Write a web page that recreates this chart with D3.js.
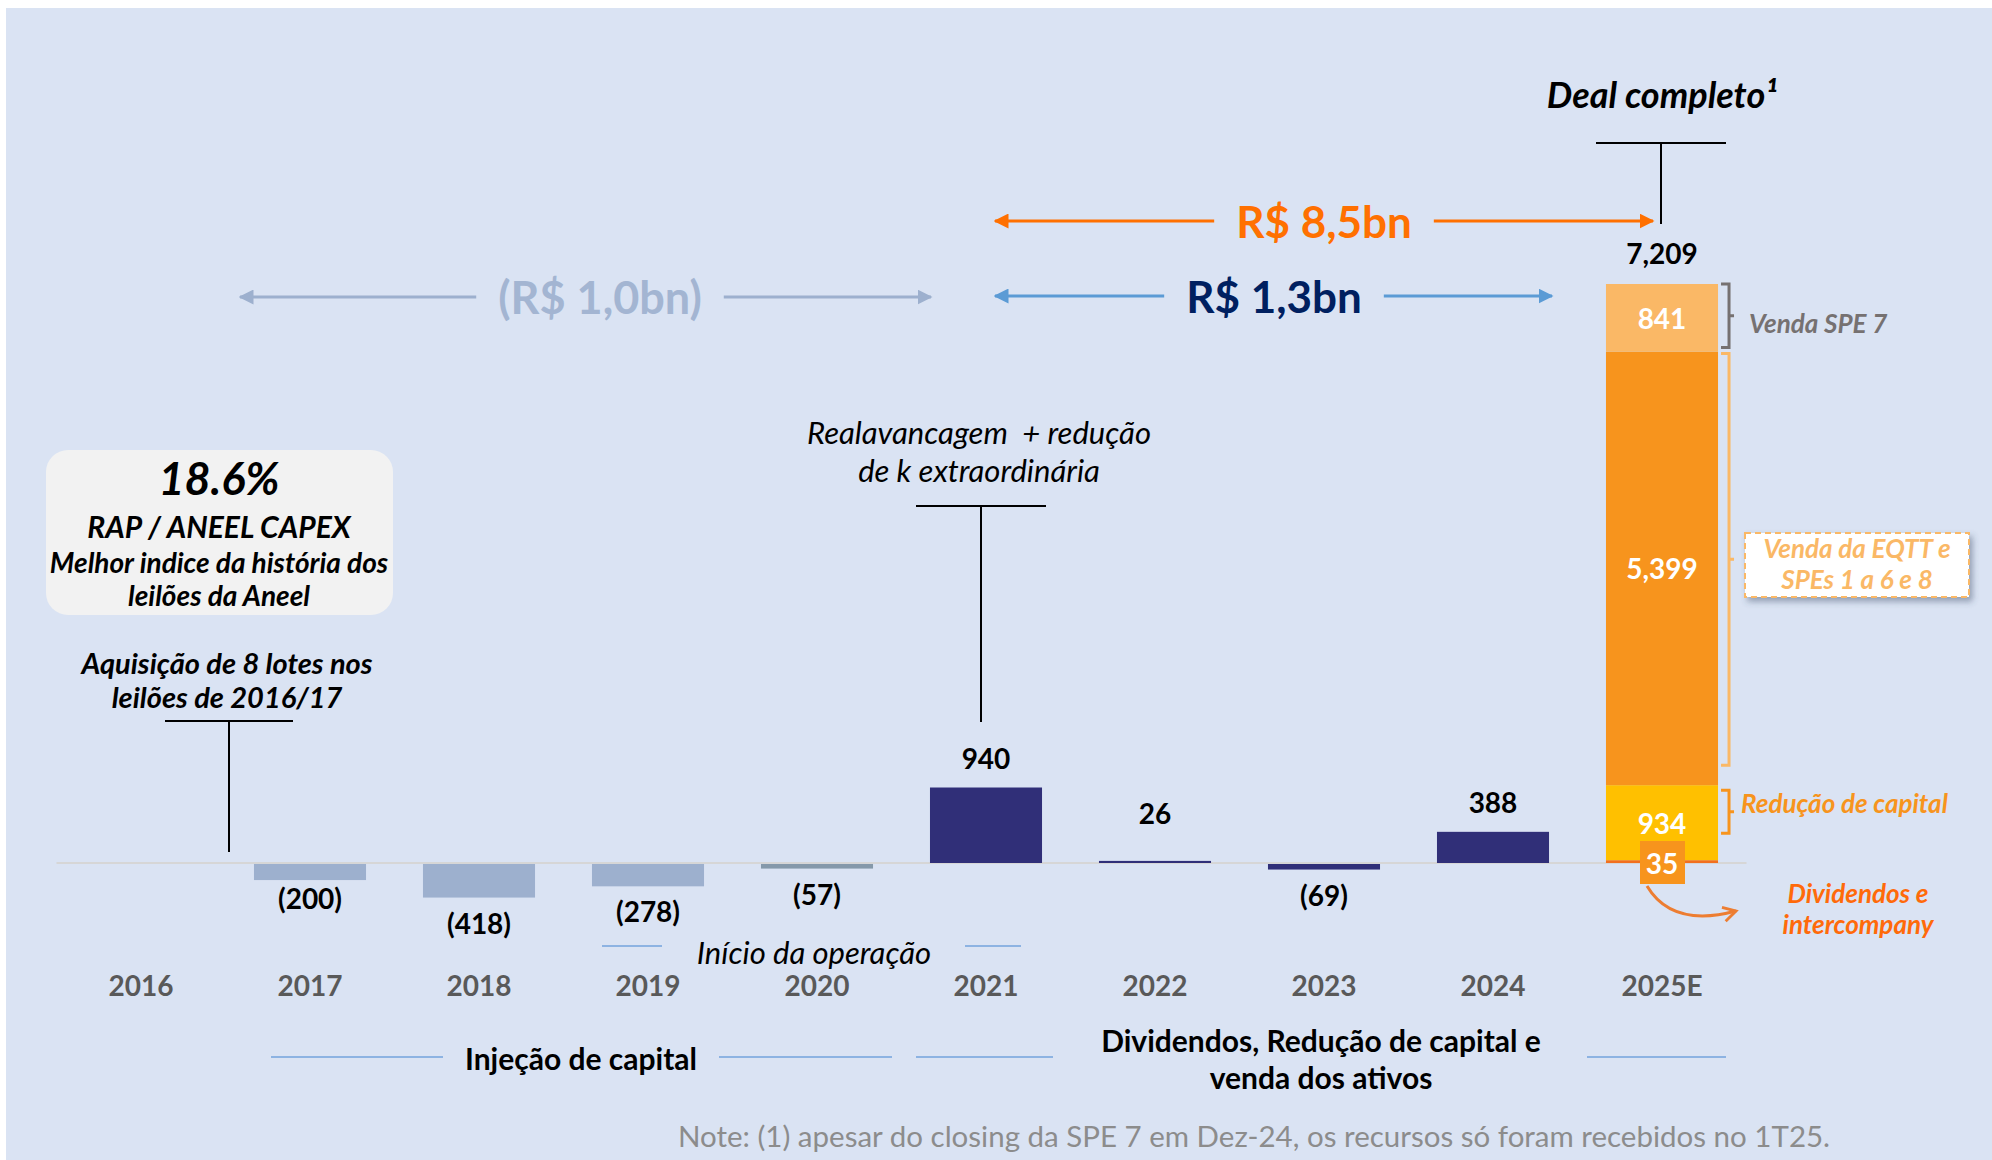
<!DOCTYPE html>
<html>
<head>
<meta charset="utf-8">
<script src="https://cdn.jsdelivr.net/npm/d3@7/dist/d3.min.js"></script>
<style>
  body { margin: 0; background: #ffffff; }
  svg { display: block; }
  text { font-family: Lato, "Open Sans", "DejaVu Sans", sans-serif; white-space: pre; }
</style>
</head>
<body>
<svg id="chart" width="1992" height="1160"></svg>
<script>
// data
var years = ["2016", "2017", "2018", "2019", "2020", "2021", "2022", "2023", "2024", "2025E"];
var flows = [null, -200, -418, -278, -57, 940, 26, -69, 388, null];
var stackNames = ["Dividendos e intercompany", "Redução de capital", "Venda da EQTT e SPEs 1 a 6 e 8", "Venda SPE 7"];
var stackValues = [35, 934, 5399, 841];
var periodLabels = ["(R$ 1,0bn)", "R$ 1,3bn", "R$ 8,5bn"];

var svg = d3.select("#chart");
var W = 1992, H = 1160;

// background panel
svg.append("rect").attr("x", 6).attr("y", 8).attr("width", W - 6).attr("height", H - 8).attr("fill", "#dae3f3");

var x = d3.scaleBand().domain(years).range([56.5, 1746.5]).paddingInner(0.337).paddingOuter(0.1685);
var total = d3.sum(stackValues);
var y = d3.scaleLinear().domain([0, total]).range([863, 284]);
function cx(yr) { return x(yr) + x.bandwidth() / 2; }

var defs = svg.append("defs");
function arrowMarker(id, color) {
  defs.append("marker").attr("id", id).attr("viewBox", "0 0 10 10")
    .attr("refX", 9).attr("refY", 5).attr("markerWidth", 5).attr("markerHeight", 5)
    .attr("orient", "auto-start-reverse")
    .append("path").attr("d", "M0,0 L10,5 L0,10 z").attr("fill", color);
}
arrowMarker("arrOrange", "#ff7000");
arrowMarker("arrBlue", "#5b9bd5");
arrowMarker("arrGrey", "#9db0ce");
defs.append("marker").attr("id", "chev").attr("viewBox", "0 0 10 10")
  .attr("refX", 8).attr("refY", 5).attr("markerWidth", 6).attr("markerHeight", 6)
  .attr("orient", "auto")
  .append("path").attr("d", "M1,1 L8,5 L1,9").attr("fill", "none").attr("stroke", "#ed7d31").attr("stroke-width", 1.6);
var shadow = defs.append("filter").attr("id", "shadow").attr("x", "-10%").attr("y", "-20%").attr("width", "130%").attr("height", "160%");
shadow.append("feDropShadow").attr("dx", 3).attr("dy", 4).attr("stdDeviation", 3).attr("flood-color", "#3a4a66").attr("flood-opacity", 0.45);

// zero line
svg.append("line").attr("x1", x.range()[0]).attr("x2", x.range()[1])
  .attr("y1", y(0)).attr("y2", y(0)).attr("stroke", "#d6d6d6").attr("stroke-width", 2);

function barColor(d, i) {
  if (d > 0 || i > 4) return "#302f78";
  if (i === 4) return "#8599aa";
  return "#9db0ce";
}

var barData = flows.map(function(v, i) { return {year: years[i], v: v, i: i}; }).filter(function(d) { return d.v !== null; });

svg.selectAll(".bar").data(barData).enter().append("rect")
  .attr("class", "bar")
  .attr("x", function(d) { return x(d.year); })
  .attr("width", x.bandwidth())
  .attr("y", function(d) { return d.v > 0 ? y(d.v) : y(0) + 1; })
  .attr("height", function(d) { return Math.abs(y(d.v) - y(0)); })
  .attr("fill", function(d) { return barColor(d.v, d.i); });

svg.selectAll(".val").data(barData).enter().append("text")
  .attr("class", "val")
  .attr("x", function(d) { return cx(d.year); })
  .attr("y", function(d) {
    if (d.v > 0) return Math.min(y(d.v), y(0) - 20) - 30;
    return Math.max(y(d.v), y(0) + 5) + (d.v === -200 ? 19 : 26);
  })
  .attr("dominant-baseline", "central")
  .attr("text-anchor", "middle").attr("font-size", 28).attr("font-weight", 700).attr("fill", "#000")
  .text(function(d) { return d.v < 0 ? "(" + Math.abs(d.v) + ")" : d3.format(",")(d.v); });

// 2025E stacked bar
var stackColors = ["#f26f1f", "#ffc000", "#f7941d", "#fab866"];
var cum = 0;
var segs = stackValues.map(function(v, i) { var s = {name: stackNames[i], v: v, y0: cum, y1: cum + v, i: i}; cum += v; return s; });
svg.selectAll(".seg").data(segs).enter().append("rect")
  .attr("class", "seg")
  .attr("x", x("2025E")).attr("width", x.bandwidth())
  .attr("y", function(d) { return y(d.y1); })
  .attr("height", function(d) { return y(d.y0) - y(d.y1); })
  .attr("fill", function(d) { return stackColors[d.i]; });

svg.selectAll(".segval").data(segs.slice(1)).enter().append("text")
  .attr("x", cx("2025E"))
  .attr("y", function(d) { return (y(d.y0) + y(d.y1)) / 2; })
  .attr("dominant-baseline", "central").attr("text-anchor", "middle")
  .attr("font-size", 28).attr("font-weight", 700).attr("fill", "#fff")
  .text(function(d) { return d3.format(",")(d.v); });

// small box for the 35
svg.append("rect").attr("x", cx("2025E") - 22).attr("y", y(0) - 22).attr("width", 45).attr("height", 43).attr("fill", "#f7941d");
svg.append("text").attr("x", cx("2025E")).attr("y", y(0))
  .attr("dominant-baseline", "central").attr("text-anchor", "middle")
  .attr("font-size", 28).attr("font-weight", 700).attr("fill", "#fff").text(segs[0].v);

// total
svg.append("text").attr("x", cx("2025E")).attr("y", y(total) - 31)
  .attr("dominant-baseline", "central").attr("text-anchor", "middle")
  .attr("font-size", 28).attr("font-weight", 700).attr("fill", "#000").text(d3.format(",")(total));

// brackets on the right of the stack
var bx = x("2025E") + x.bandwidth() + 3;
function bracket(y0, y1, color) {
  var m = (y0 + y1) / 2;
  svg.append("path")
    .attr("d", "M" + bx + "," + y0 + " H" + (bx + 8) + " V" + y1 + " H" + bx + " M" + (bx + 8) + "," + m + " H" + (bx + 13))
    .attr("fill", "none").attr("stroke", color).attr("stroke-width", 3);
}
bracket(y(segs[3].y1), y(segs[3].y0) - 4, "#767171");
bracket(y(segs[2].y1) + 2, y(segs[2].y0) - 20, "#fab866");
bracket(y(segs[1].y1) + 5, y(segs[1].y0) - 27, "#f7941d");

function italicLabel(tx, ty, str, size, color, anchor) {
  return svg.append("text").attr("x", tx).attr("y", ty).attr("text-anchor", anchor || "start")
    .attr("font-size", size).attr("font-weight", 700).attr("font-style", "italic")
    .attr("fill", color).text(str);
}
italicLabel(bx + 28, 333, "Venda SPE 7", 26, "#767171");
italicLabel(bx + 20, 813, "Redução de capital", 26, "#f7941d");

// dashed callout box
svg.append("rect").attr("x", 1745).attr("y", 533).attr("width", 224).attr("height", 64)
  .attr("fill", "#ffffff").attr("stroke", "#fab866").attr("stroke-width", 2)
  .attr("stroke-dasharray", "6,4").attr("filter", "url(#shadow)");
italicLabel(1857, 558, "Venda da EQTT e", 26, "#fab866", "middle");
italicLabel(1857, 589, "SPEs 1 a 6 e 8", 26, "#fab866", "middle");

// curved arrow to dividends note
svg.append("path").attr("d", "M1647,886 Q1672,928 1736,911")
  .attr("fill", "none").attr("stroke", "#ed7d31").attr("stroke-width", 3).attr("marker-end", "url(#chev)");
italicLabel(1858, 903, "Dividendos e", 26, "#ff6a0a", "middle");
italicLabel(1858, 934, "intercompany", 26, "#ff6a0a", "middle");

// period arrows
function periodArrow(x0, x1, yy, label, textColor, lineColor, marker, textX, size) {
  var t = svg.append("text").attr("x", textX).attr("y", yy)
    .attr("dominant-baseline", "central").attr("text-anchor", "middle")
    .attr("font-size", size).attr("font-weight", 700).attr("fill", textColor).text(label);
  var half = t.node().getComputedTextLength() / 2 + 22;
  svg.append("line").attr("x1", textX - half).attr("x2", x0).attr("y1", yy).attr("y2", yy)
    .attr("stroke", lineColor).attr("stroke-width", 3).attr("marker-end", "url(#" + marker + ")");
  svg.append("line").attr("x1", textX + half).attr("x2", x1).attr("y1", yy).attr("y2", yy)
    .attr("stroke", lineColor).attr("stroke-width", 3).attr("marker-end", "url(#" + marker + ")");
}
periodArrow(cx("2016") + 99, cx("2020") + 114, 297, periodLabels[0], "#a3b5d2", "#9db0ce", "arrGrey", 600, 45);
periodArrow(cx("2021") + 9, cx("2024") + 59, 296, periodLabels[1], "#002060", "#5b9bd5", "arrBlue", 1274, 44);
periodArrow(cx("2021") + 9, cx("2025E") - 9, 221, periodLabels[2], "#ff7000", "#ff7000", "arrOrange", 1324, 44);

// "Deal completo" marker
svg.append("text").attr("x", cx("2025E")).attr("y", 108).attr("text-anchor", "middle")
  .attr("font-size", 36).attr("font-weight", 700).attr("font-style", "italic").attr("fill", "#000")
  .text("Deal completo¹");
function tMarker(mx, top, bottom, half) {
  svg.append("line").attr("x1", mx - half).attr("x2", mx + half).attr("y1", top).attr("y2", top)
    .attr("stroke", "#000").attr("stroke-width", 2);
  svg.append("line").attr("x1", mx).attr("x2", mx).attr("y1", top).attr("y2", bottom)
    .attr("stroke", "#000").attr("stroke-width", 2);
}
tMarker(cx("2025E") - 1, 143, 224, 65);
tMarker(cx("2021") - 5, 506, 722, 65);
tMarker(229, 721, 852, 64);

// annotations
svg.append("text").attr("x", 979).attr("y", 444).attr("text-anchor", "middle")
  .attr("font-size", 31).attr("font-style", "italic").attr("fill", "#000").text("Realavancagem  + redução");
svg.append("text").attr("x", 979).attr("y", 482).attr("text-anchor", "middle")
  .attr("font-size", 31).attr("font-style", "italic").attr("fill", "#000").text("de k extraordinária");

italicLabel(227, 674, "Aquisição de 8 lotes nos", 29, "#000", "middle");
italicLabel(227, 708, "leilões de 2016/17", 29, "#000", "middle");

// RAP box
svg.append("rect").attr("x", 46).attr("y", 450).attr("width", 347).attr("height", 165)
  .attr("rx", 22).attr("fill", "#f2f2f2");
italicLabel(219, 495, "18.6%", 45, "#000", "middle");
italicLabel(219, 538, "RAP / ANEEL CAPEX", 30, "#000", "middle");
italicLabel(219, 573, "Melhor indice da história dos", 28, "#000", "middle");
italicLabel(219, 606, "leilões da Aneel", 28, "#000", "middle");

// year axis
svg.append("g").attr("transform", "translate(0," + 985 + ")")
  .call(d3.axisBottom(x).tickSize(0).tickPadding(0))
  .call(function(g) { g.select(".domain").remove(); })
  .selectAll("text")
  .attr("dy", null).attr("dominant-baseline", "central")
  .attr("font-family", "Lato, sans-serif").attr("font-size", 28).attr("font-weight", 700).attr("fill", "#595959");

// inicio da operacao
function rule(x1, x2, yy) {
  svg.append("line").attr("x1", x1).attr("x2", x2).attr("y1", yy).attr("y2", yy)
    .attr("stroke", "#8db3e2").attr("stroke-width", 2);
}
rule(602, 662, 946);
rule(965, 1021, 946);
svg.append("text").attr("x", 814).attr("y", 964).attr("text-anchor", "middle")
  .attr("font-size", 31).attr("font-style", "italic").attr("fill", "#000").text("Início da operação");

// phase labels
rule(271, 443, 1057);
rule(719, 892, 1057);
rule(916, 1053, 1057);
rule(1587, 1726, 1057);
svg.append("text").attr("x", 581).attr("y", 1070).attr("text-anchor", "middle")
  .attr("font-size", 30).attr("font-weight", 700).attr("fill", "#000").text("Injeção de capital");
svg.append("text").attr("x", 1321).attr("y", 1052).attr("text-anchor", "middle")
  .attr("font-size", 30).attr("font-weight", 700).attr("fill", "#000").text("Dividendos, Redução de capital e");
svg.append("text").attr("x", 1321).attr("y", 1089).attr("text-anchor", "middle")
  .attr("font-size", 30).attr("font-weight", 700).attr("fill", "#000").text("venda dos ativos");

// footnote
svg.append("text").attr("x", 1254).attr("y", 1147).attr("text-anchor", "middle")
  .attr("font-size", 29.5).attr("fill", "#8c8c8c")
  .text("Note: (1) apesar do closing da SPE 7 em Dez-24, os recursos só foram recebidos no 1T25.");
</script>
</body>
</html>
